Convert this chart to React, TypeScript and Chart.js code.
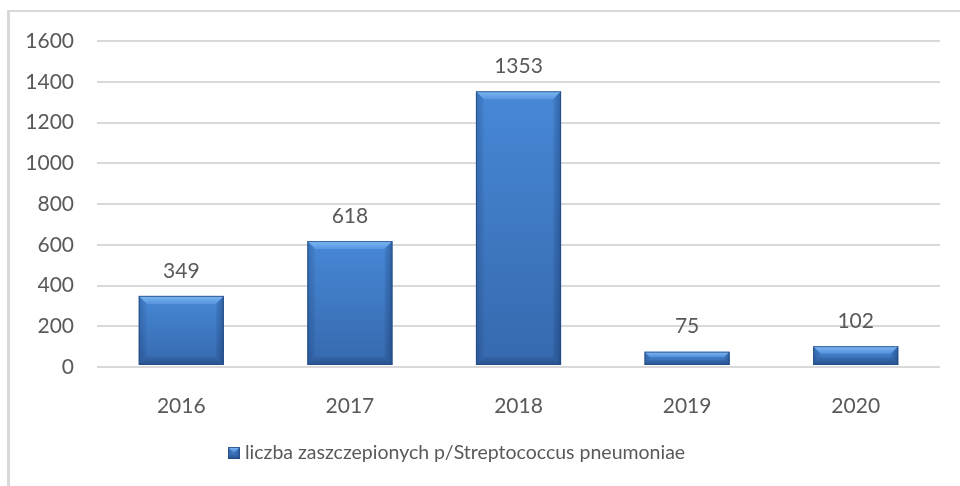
import React, { useEffect, useRef } from "react";
import { Chart, registerables } from "chart.js";

Chart.register(...registerables);

const categories = ["2016", "2017", "2018", "2019", "2020"];
const values = [349, 618, 1353, 75, 102];
const seriesLabel = "liczba zaszczepionych p/Streptococcus pneumoniae";
const yMax = 1600;
const yStep = 200;

const FONT = "Lato, 'Open Sans', sans-serif";
const TEXT = "#595959";

const framePlugin = {
  id: "frame",
  beforeDraw(chart: any) {
    const ctx = chart.ctx;
    ctx.save();
    ctx.fillStyle = "#ffffff";
    ctx.fillRect(0, 0, chart.width, chart.height);
    ctx.fillStyle = "#d9d9d9";
    ctx.fillRect(7, 10, 3, chart.height - 10);
    ctx.fillRect(7, 10, chart.width - 7, 2);
    ctx.restore();
  },
};

function drawBevelBar(ctx: any, l: number, t: number, width: number, h: number) {
  const r = l + width;
  const bot = t + h;
  const b = Math.min(8, h / 2.5, width / 2);
  const g = ctx.createLinearGradient(0, t, 0, bot);
  g.addColorStop(0, "#4788d6");
  g.addColorStop(1, "#3669ae");
  ctx.fillStyle = g;
  ctx.fillRect(l, t, width, h);
  const poly = (pts: number[][], fill: any) => {
    ctx.beginPath();
    ctx.moveTo(pts[0][0], pts[0][1]);
    for (let k = 1; k < pts.length; k++) ctx.lineTo(pts[k][0], pts[k][1]);
    ctx.closePath();
    ctx.fillStyle = fill;
    ctx.fill();
  };
  const gt = ctx.createLinearGradient(0, t, 0, t + b);
  gt.addColorStop(0, "rgba(140,195,250,0.85)");
  gt.addColorStop(1, "rgba(110,170,240,0.45)");
  poly([[l, t], [r, t], [r - b, t + b], [l + b, t + b]], gt);
  const gl = ctx.createLinearGradient(l, 0, l + b, 0);
  gl.addColorStop(0, "rgba(0,20,60,0.22)");
  gl.addColorStop(1, "rgba(0,20,60,0.04)");
  poly([[l, t], [l + b, t + b], [l + b, bot - b], [l, bot]], gl);
  const gr = ctx.createLinearGradient(r, 0, r - b, 0);
  gr.addColorStop(0, "rgba(0,20,60,0.32)");
  gr.addColorStop(1, "rgba(0,20,60,0.06)");
  poly([[r, t], [r - b, t + b], [r - b, bot - b], [r, bot]], gr);
  const gb = ctx.createLinearGradient(0, bot, 0, bot - b);
  gb.addColorStop(0, "rgba(0,20,60,0.28)");
  gb.addColorStop(1, "rgba(0,20,60,0.08)");
  poly([[l, bot], [r, bot], [r - b, bot - b], [l + b, bot - b]], gb);
  ctx.strokeStyle = "rgba(35,75,130,0.8)";
  ctx.lineWidth = 1;
  ctx.strokeRect(l + 0.5, t + 0.5, width - 1, h - 1);
}

const bevelPlugin = {
  id: "bevel",
  afterDatasetsDraw(chart: any) {
    const ctx = chart.ctx;
    const meta = chart.getDatasetMeta(0);
    ctx.save();
    meta.data.forEach((el: any, i: number) => {
      const { x, y, base, width } = el.getProps(["x", "y", "base", "width"], true);
      const t = Math.min(y, base);
      const bot = Math.max(y, base) - 1;
      drawBevelBar(ctx, x - width / 2, t, width, bot - t);
      ctx.fillStyle = TEXT;
      ctx.font = `21px ${FONT}`;
      ctx.textAlign = "center";
      ctx.textBaseline = "middle";
      ctx.fillText(String(values[i]), x, t - 25);
    });
    // legend
    const ly = 453;
    const lx = 228;
    drawBevelBar(ctx, lx, ly - 6, 12, 12);
    ctx.fillStyle = TEXT;
    ctx.font = `19.5px ${FONT}`;
    ctx.textAlign = "left";
    ctx.textBaseline = "middle";
    ctx.fillText(seriesLabel, lx + 17, ly);
    ctx.restore();
  },
};

export default function App() {
  const ref = useRef<HTMLCanvasElement | null>(null);
  useEffect(() => {
    if (!ref.current) return;
    const chart = new Chart(ref.current, {
      type: "bar",
      data: {
        labels: categories,
        datasets: [
          {
            label: seriesLabel,
            data: values,
            backgroundColor: "rgba(0,0,0,0)",
            borderWidth: 0,
            categoryPercentage: 1,
            barPercentage: 0.505,
          },
        ],
      },
      options: {
        animation: false,
        responsive: true,
        maintainAspectRatio: false,
        layout: { padding: { top: 41, right: 20, bottom: 53, left: 0 } },
        plugins: {
          tooltip: { enabled: false },
          legend: { display: false },
        },
        scales: {
          x: {
            grid: { display: false },
            border: { display: false },
            ticks: { color: TEXT, font: { family: FONT, size: 21 }, padding: 19 },
            afterFit: (s: any) => {
              s.height = 66;
            },
          },
          y: {
            min: 0,
            max: yMax,
            grid: { color: "#d9d9d9", lineWidth: 2, drawTicks: false },
            border: { display: false },
            ticks: {
              stepSize: yStep,
              color: TEXT,
              font: { family: FONT, size: 21 },
              padding: 23,
              callback: (v: any) => String(v),
            },
            afterFit: (s: any) => {
              s.width = 97;
            },
          },
        },
      },
      plugins: [framePlugin, bevelPlugin],
    });
    return () => chart.destroy();
  }, []);
  return (
    <div style={{ position: "absolute", left: 0, top: 0, width: 960, height: 486 }}>
      <canvas ref={ref} />
    </div>
  );
}
